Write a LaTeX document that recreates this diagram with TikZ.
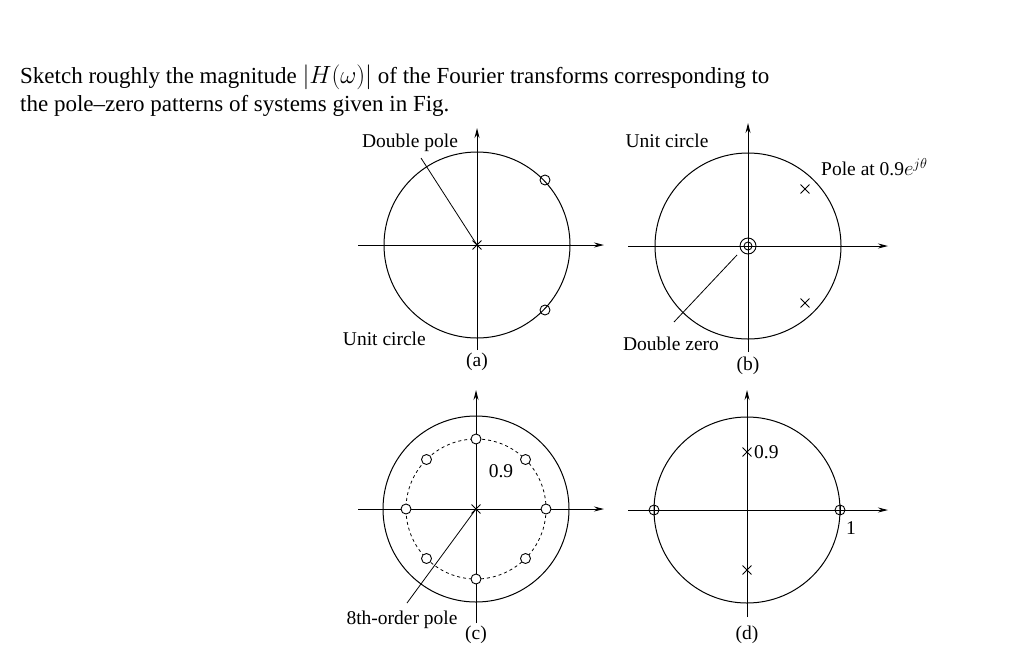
\documentclass[tikz,border=0pt]{standalone}
\usepackage{fontspec}
\setmainfont{Liberation Serif}
\usetikzlibrary{arrows.meta,shapes.misc,calc}
\begin{document}
\begin{tikzpicture}[x=1pt,y=-1pt,
  ax/.style={line width=1pt,-{Stealth[length=10pt,width=5pt]}},
  uc/.style={line width=1pt},
  zero/.style={circle,draw,line width=0.9pt,minimum size=10pt,inner sep=0pt},
  pole/.style={cross out,draw,line width=0.9pt,minimum size=8pt,inner sep=0pt},
  lbl/.style={font=\fontsize{19.5}{21}\selectfont,inner sep=1pt},
  hdr/.style={font=\fontsize{23}{26}\selectfont,anchor=base west,inner sep=0pt}]
\useasboundingbox (0,0) rectangle (1024,670);
\node[hdr] (h1) at (20,83) {Sketch roughly the magnitude $|H(\omega)|$ of the Fourier transforms corresponding to};
\node[hdr] (h2) at (20,111) {the pole--zero patterns of systems given in Fig.};
% (a)
\coordinate (ca) at (477,245);
\draw[uc] (ca) circle (93);
\draw[ax] (358,245) -- (604,245);
\draw[ax] (477,350) -- (477,128);
\node[pole] (pa) at (ca) {};
\node[zero] (za1) at (545,180) {};
\node[zero] (za2) at (545,310) {};
\node[lbl] (dp) at (410,143) {Double pole};
\coordinate (dpe) at (421,158);
\draw[line width=0.8pt] (dpe) -- (pa.center);
\node[lbl,anchor=east] (uca) at (427,339) {Unit circle};
\node[lbl] (la) at (477,362) {(a)};
% (b)
\coordinate (cb) at (748,246);
\draw[uc] (cb) circle (93);
\draw[ax] (628,246) -- (888,246);
\draw[ax] (748,352) -- (748,123);
\node[pole] (pb1) at (805,189) {};
\node[pole] (pb2) at (805,303) {};
\node[circle,draw,line width=0.9pt,minimum size=16pt,inner sep=0pt] (zb) at (cb) {};
\node[circle,draw,line width=0.9pt,minimum size=8pt,inner sep=0pt] (zb2) at (cb) {};
\node[lbl] (ucb) at (667,141) {Unit circle};
\node[lbl,anchor=west] (pat) at (820,167) {Pole at 0.9$e^{j\theta}$};
\node[lbl] (dz) at (671,344) {Double zero};
\coordinate (dze) at (674,322);
\draw[line width=0.8pt] (dze) -- (737,255);
\node[lbl] (lb) at (748,366) {(b)};
% (c)
\coordinate (cc) at (476,509);
\draw[uc] (cc) circle (93);
\draw[line width=0.8pt,dash pattern=on 3pt off 3pt] (cc) circle (70);
\draw[ax] (358,509) -- (604,509);
\draw[ax] (476,623) -- (476,390);
\foreach \a [count=\i] in {0,45,...,315}
  \node[zero,fill=white] (zc\i) at ($(cc)+(\a:70)$) {};
\node[pole] (pc) at (cc) {};
\node[lbl] (nine) at (501,471) {0.9};
\node[lbl] (eo) at (402,620) {8th-order pole};
\coordinate (eoe) at (407,603);
\draw[line width=0.8pt] (eoe) -- (pc.center);
\node[lbl] (lc) at (476,635) {(c)};
% (d)
\coordinate (cd) at (747,510);
\draw[uc] (cd) circle (93);
\draw[ax] (628,510) -- (888,510);
\draw[ax] (747,617) -- (747,390);
\node[pole] (pd1) at (747,452) {};
\node[pole] (pd2) at (747,570) {};
\node[zero] (zd1) at (654,510) {};
\node[zero] (zd2) at (840,510) {};
\draw[line width=0.9pt] (zd1.north) -- (zd1.south) (zd2.north) -- (zd2.south);
\node[lbl,anchor=west] (nd) at (753,452) {0.9};
\node[lbl] (one) at (851,528) {1};
\node[lbl] (ld) at (747,635) {(d)};
\end{tikzpicture}
\end{document}
